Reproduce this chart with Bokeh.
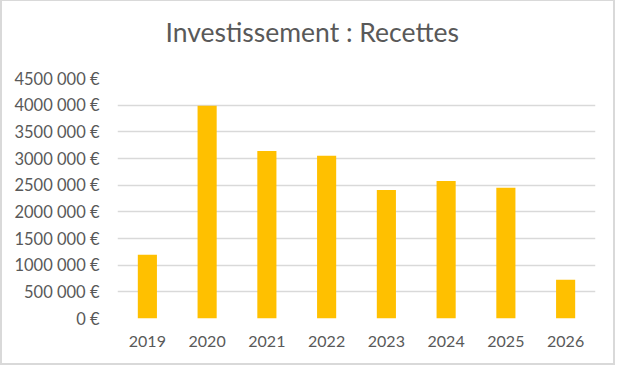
from bokeh.plotting import figure
from bokeh.models import FixedTicker, Title
from bokeh.embed import file_html
from bokeh.resources import INLINE

years = ["2019", "2020", "2021", "2022", "2023", "2024", "2025", "2026"]
recettes = [1195000, 3990000, 3140000, 3050000, 2410000, 2580000, 2450000, 725000]
y_ticks = [0, 500000, 1000000, 1500000, 2000000, 2500000, 3000000, 3500000, 4000000, 4500000]
y_tick_labels = ["0 €", "500 000 €", "1000 000 €", "1500 000 €", "2000 000 €",
                 "2500 000 €", "3000 000 €", "3500 000 €", "4000 000 €", "4500 000 €"]
title_text = "Investissement : Recettes"

FONT = "Lato"
GREY = "#595959"

p = figure(x_range=years, y_range=(0, 4500000), width=615, height=365,
           output_backend="svg", toolbar_location=None,
           min_border_left=115, min_border_right=22, min_border_top=77, min_border_bottom=48)
p.x_range.range_padding = 0
p.styles = {"border-style": "solid", "border-color": "#d9d9d9", "border-width": "1px 2px 2px 2px"}

p.vbar(x=years, top=recettes, width=0.32, color="#FFC000", line_color=None)

# spacer between the frame and the title
spacer = Title(text=" ", text_font_size="2px", standoff=25)
p.add_layout(spacer, "above")
t = Title(text=title_text, align="left", offset=48, text_font=FONT, text_font_size="26.5px",
          text_font_style="normal", text_color=GREY, standoff=4)
p.add_layout(t, "above")

p.outline_line_color = None
p.xgrid.grid_line_color = None
p.ygrid.grid_line_color = "#d9d9d9"
p.ygrid.grid_line_width = 1.3

p.yaxis.ticker = FixedTicker(ticks=y_ticks)
p.yaxis.major_label_overrides = {v: s for v, s in zip(y_ticks, y_tick_labels)}
p.yaxis.axis_line_color = None
p.yaxis.major_tick_line_color = None
p.yaxis.minor_tick_line_color = None
p.yaxis.major_label_standoff = 12
p.yaxis.major_label_text_font = FONT
p.yaxis.major_label_text_font_size = "16.5px"
p.yaxis.major_label_text_color = GREY

p.xaxis.axis_line_color = None
p.xaxis.major_tick_line_color = None
p.xaxis.minor_tick_line_color = None
p.xaxis.major_label_standoff = 11
p.xaxis.major_label_text_font = FONT
p.xaxis.major_label_text_font_size = "16px"
p.xaxis.major_label_text_color = GREY

open("out.html", "w").write(file_html(p, INLINE))
